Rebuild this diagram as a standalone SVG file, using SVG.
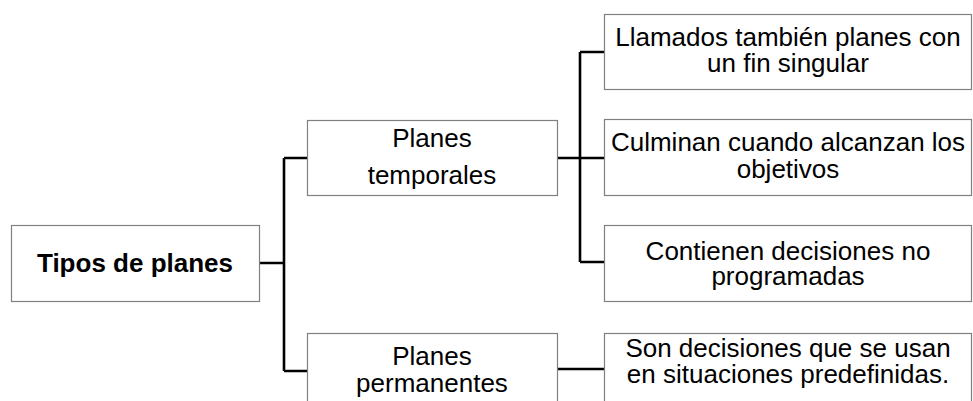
<svg xmlns="http://www.w3.org/2000/svg" width="973" height="401" viewBox="0 0 973 401">
  <style>
    .box { fill: #ffffff; stroke: #808080; stroke-width: 1.2; }
    .lbl { font-family: "Liberation Sans", Arial, sans-serif; font-size: 26px; fill: #000000; text-anchor: middle; }
    .bold { font-weight: bold; }
    .wire { fill: none; stroke: #000000; stroke-width: 2.6; }
  </style>
  <rect width="973" height="401" fill="#ffffff"/>

  <!-- tree connectors -->
  <g id="connectors">
    <path class="wire" d="M259 263 H284 M284 158 V371 M284 158 H307 M284 371 H307"/>
    <path class="wire" d="M557 158 H580 M580 52 V262 M580 52 H604 M580 158 H604 M580 262 H604"/>
    <path class="wire" d="M557 369 H604"/>
  </g>

  <g id="root">
    <rect class="box" x="11.5" y="225.5" width="248" height="76"/>
    <text class="lbl bold" x="135" y="272">Tipos de planes</text>
  </g>

  <g id="temporales">
    <rect class="box" x="307.5" y="120.5" width="250" height="75"/>
    <text class="lbl" x="432" y="147">Planes</text>
    <text class="lbl" x="432" y="184">temporales</text>
  </g>

  <g id="permanentes">
    <rect class="box" x="307.5" y="333.5" width="250" height="80"/>
    <text class="lbl" x="432" y="365">Planes</text>
    <text class="lbl" x="432" y="392">permanentes</text>
  </g>

  <g id="fin-singular">
    <rect class="box" x="604.5" y="14.5" width="367" height="75"/>
    <text class="lbl" x="788" y="46">Llamados también planes con</text>
    <text class="lbl" x="788" y="72">un fin singular</text>
  </g>

  <g id="objetivos">
    <rect class="box" x="604.5" y="119.5" width="367" height="76"/>
    <text class="lbl" x="788" y="151">Culminan cuando alcanzan los</text>
    <text class="lbl" x="788" y="178">objetivos</text>
  </g>

  <g id="no-programadas">
    <rect class="box" x="604.5" y="225.5" width="367" height="76"/>
    <text class="lbl" x="788" y="260">Contienen decisiones no</text>
    <text class="lbl" x="788" y="285">programadas</text>
  </g>

  <g id="predefinidas">
    <rect class="box" x="604.5" y="333.5" width="367" height="80"/>
    <text class="lbl" x="788" y="357">Son decisiones que se usan</text>
    <text class="lbl" x="788" y="383">en situaciones predefinidas.</text>
  </g>
</svg>
